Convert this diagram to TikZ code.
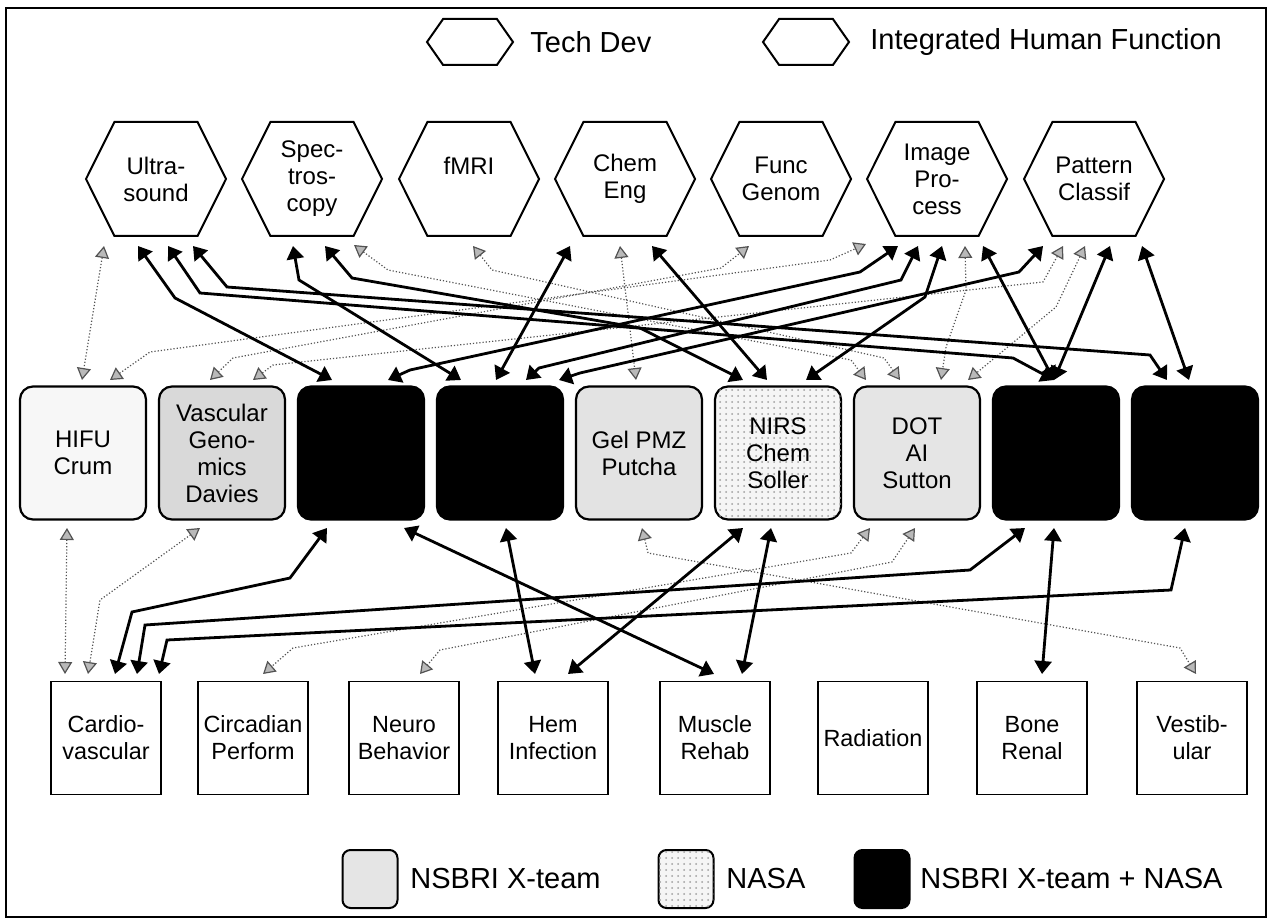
\documentclass[tikz,border=0pt]{standalone}
\usepackage{fontspec}
\setmainfont{Liberation Sans}
\usetikzlibrary{shapes.symbols,arrows.meta,calc,patterns}

\begin{document}
\begin{tikzpicture}[x=0.5pt,y=-0.5pt,
    hexa/.style={shape=signal, signal to=east and west, signal pointer angle=127,
      draw, line width=1pt, minimum width=70pt, minimum height=57pt, inner sep=0pt,
      align=center, font=\fontsize{12pt}{13.5pt}\selectfont},
    lhex/.style={shape=signal, signal to=east and west, signal pointer angle=110,
      draw, line width=1pt, minimum width=43pt, minimum height=23pt, inner sep=0pt},
    mbox/.style={draw, rounded corners=6.5pt, line width=1.1pt, minimum width=63pt,
      minimum height=66.5pt, inner sep=0pt, align=center,
      font=\fontsize{12pt}{13.5pt}\selectfont},
    bbox/.style={draw, line width=0.9pt, minimum width=55pt, minimum height=56.5pt,
      inner sep=0pt, align=center, font=\fontsize{11.7pt}{13.5pt}\selectfont},
    lswatch/.style={draw, rounded corners=4pt, line width=1pt, minimum width=27.5pt,
      minimum height=29pt},
    ltext/.style={anchor=west, inner sep=0pt, font=\fontsize{14.5pt}{16pt}\selectfont},
    xteam/.style={fill=gray!20},
    nasa/.style={fill=gray!8, postaction={pattern=dots, pattern color=gray!75}},
    both/.style={fill=black},
    blk/.style={line width=1.4pt, >={Triangle[length=6.5pt,width=8.5pt]}, <->},
    gry/.style={line width=0.6pt, gray!65!black, densely dotted,
      >={Triangle[length=6pt,width=7pt,fill=gray!55]}, <->}]
  \useasboundingbox (0,0) rectangle (1272,924);
  % Draw the frame
  \draw[line width=1pt] (6,8) rectangle (1266,917);
  % Draw the top legend
  \node[lhex] (ltech) at (470,42) {};
  \node[ltext] (ltechtxt) at (530,42) {Tech Dev};
  \node[lhex] (lhuman) at (806,42) {};
  \node[ltext] (lhumantxt) at (870,42) {Integrated Human Function};
  % Draw the technologies
  \node[hexa] (us) at (156,179) {Ultra-\\sound};
  \node[hexa] (spec) at (312,179) {Spec-\\tros-\\copy};
  \node[hexa] (fmri) at (469,179) {fMRI\\{}};
  \node[hexa] (chem) at (625,179) {Chem\\Eng};
  \node[hexa] (func) at (781,179) {Func\\Genom};
  \node[hexa] (img) at (937,179) {Image\\Pro-\\cess};
  \node[hexa] (patt) at (1094,179) {Pattern\\Classif};
  % Draw the projects
  \node[mbox, fill=gray!6] (hifu) at (83,453) {HIFU\\Crum};
  \node[mbox, fill=gray!30] (vasc) at (222,453) {Vascular\\Geno-\\mics\\Davies};
  \node[mbox, both] (bk1) at (361,453) {};
  \node[mbox, both] (bk2) at (500,453) {};
  \node[mbox, fill=gray!22] (gel) at (639,453) {Gel PMZ\\Putcha};
  \node[mbox, nasa] (nirs) at (778,453) {NIRS\\Chem\\Soller};
  \node[mbox, fill=gray!20] (dot) at (917,453) {DOT\\AI\\Sutton};
  \node[mbox, both] (bk3) at (1056,453) {};
  \node[mbox, both] (bk4) at (1195,453) {};
  % Draw the research areas
  \node[bbox] (cardio) at (106,738) {Cardio-\\vascular};
  \node[bbox] (circ) at (253,738) {Circadian\\Perform};
  \node[bbox] (neuro) at (404,738) {Neuro\\Behavior};
  \node[bbox] (hem) at (553,738) {Hem\\Infection};
  \node[bbox] (musc) at (715,738) {Muscle\\Rehab};
  \node[bbox] (rad) at (873,738) {Radiation};
  \node[bbox] (bone) at (1032,738) {Bone\\Renal};
  \node[bbox] (vest) at (1192,738) {Vestib-\\ular};
  % Draw the bottom legend
  \node[lswatch, xteam] (lx) at (370,879) {};
  \node[ltext] (lxtxt) at (410,879) {NSBRI X-team};
  \node[lswatch, nasa] (lnasa) at (686,879) {};
  \node[ltext] (lnasatxt) at (726,879) {NASA};
  \node[lswatch, both] (lboth) at (882,879) {};
  \node[ltext] (lbothtxt) at (920,879) {NSBRI X-team + NASA};
  % Draw the links from technologies to projects
  \draw[gry] ($(us)+(-52,67)$) -- ($(hifu)+(-1,-73)$);
  \draw[gry] ($(hifu)+(27,-73)$) -- (150,352) -- (830,260) -- ($(img)+(-71,65)$);
  \draw[gry] ($(vasc)+(-12,-73)$) -- (233,358) -- (721,268) -- ($(func)+(-32,67)$);
  \draw[gry] ($(vasc)+(31,-73)$) -- (273,365) -- (1043,282) -- ($(patt)+(-31,67)$);
  \draw[gry] ($(chem)+(-5,67)$) -- ($(gel)+(-3,-73)$);
  \draw[gry] ($(spec)+(42,66)$) -- (388,270) -- (851,360) -- ($(dot)+(-51,-73)$);
  \draw[gry] ($(fmri)+(4,67)$) -- (492,270) -- (884,358) -- ($(dot)+(-17,-73)$);
  \draw[gry] ($(img)+(28,67)$) -- (966,290) -- (946,347) -- ($(dot)+(24,-73)$);
  \draw[gry] ($(patt)+(-9,67)$) -- (1056,307) -- ($(dot)+(51,-73)$);
  \draw[blk] ($(us)+(-18,67)$) -- (175,298) -- ($(bk1)+(-29,-73)$);
  \draw[blk] ($(us)+(12,67)$) -- (200,293) -- (1013,358) -- ($(bk3)+(-2,-73)$);
  \draw[blk] ($(us)+(37,67)$) -- (227,287) -- (1150,355) -- ($(bk4)+(-28,-73)$);
  \draw[blk] ($(spec)+(-19,67)$) -- (299,280) -- ($(bk2)+(-39,-73)$);
  \draw[blk] ($(spec)+(13,67)$) -- (352,278) -- (640,328) -- ($(nirs)+(-35,-73)$);
  \draw[blk] ($(chem)+(-55,67)$) -- ($(bk2)+(-4,-73)$);
  \draw[blk] ($(chem)+(27,67)$) -- ($(nirs)+(-11,-73)$);
  \draw[blk] ($(img)+(5,67)$) -- (925,297) -- ($(nirs)+(28,-73)$);
  \draw[blk] ($(img)+(-39,67)$) -- (860,272) -- (410,370) -- ($(bk1)+(27,-73)$);
  \draw[blk] ($(img)+(-19,67)$) -- (901,280) -- (539,368) -- ($(bk2)+(26,-73)$);
  \draw[blk] ($(patt)+(-51,67)$) -- (1019,272) -- (580,373) -- ($(bk2)+(59,-73)$);
  \draw[blk] ($(img)+(46,67)$) -- ($(bk3)+(-2,-73)$);
  \draw[blk] ($(patt)+(16,67)$) -- ($(bk3)+(-2,-73)$);
  \draw[blk] ($(patt)+(48,67)$) -- ($(bk4)+(-6,-73)$);
  % Draw the links from projects to research areas
  \draw[gry] ($(hifu)+(-16,75)$) -- ($(cardio)+(-41,-64)$);
  \draw[gry] ($(vasc)+(-22,75)$) -- (100,600) -- ($(cardio)+(-18,-64)$);
  \draw[gry] ($(gel)+(3,75)$) -- (648,553) -- (1180,648) -- ($(vest)+(4,-64)$);
  \draw[gry] ($(dot)+(-47,75)$) -- (851,553) -- (293,648) -- ($(circ)+(10,-64)$);
  \draw[gry] ($(dot)+(-2,75)$) -- (892,562) -- (440,650) -- ($(neuro)+(16,-64)$);
  \draw[blk] ($(bk1)+(-34,75)$) -- (290,578) -- (132,612) -- ($(cardio)+(9,-64)$);
  \draw[blk] ($(bk1)+(43,75)$) -- ($(musc)+(-1,-64)$);
  \draw[blk] ($(bk2)+(6,75)$) -- ($(hem)+(-18,-64)$);
  \draw[blk] ($(nirs)+(-35,75)$) -- ($(hem)+(15,-64)$);
  \draw[blk] ($(nirs)+(-7,75)$) -- ($(musc)+(27,-64)$);
  \draw[blk] ($(bk3)+(-31,75)$) -- (970,570) -- (145,625) -- ($(cardio)+(31,-64)$);
  \draw[blk] ($(bk3)+(-2,75)$) -- ($(bone)+(10,-64)$);
  \draw[blk] ($(bk4)+(-10,75)$) -- (1171,590) -- (167,640) -- ($(cardio)+(53,-64)$);
\end{tikzpicture}
\end{document}
